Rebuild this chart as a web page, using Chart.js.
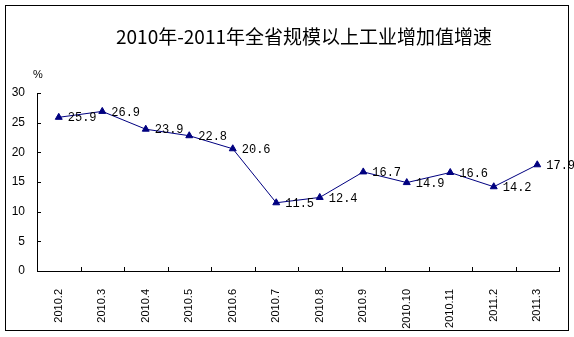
<!DOCTYPE html>
<html>
<head>
<meta charset="utf-8">
<script src="https://cdn.jsdelivr.net/npm/chart.js@4/dist/chart.umd.min.js"></script>
<style>
  html, body { margin: 0; padding: 0; background: #fff; }
  canvas { display: block; }
</style>
</head>
<body>
<canvas id="growthChart" width="574" height="337"></canvas>
<script>
const months = ["2010.2", "2010.3", "2010.4", "2010.5", "2010.6", "2010.7", "2010.8", "2010.9", "2010.10", "2010.11", "2011.2", "2011.3"];
const growth = [25.9, 26.9, 23.9, 22.8, 20.6, 11.5, 12.4, 16.7, 14.9, 16.6, 14.2, 17.9];
const yTicks = [0, 5, 10, 15, 20, 25, 30];
const chartTitle = "2010年-2011年全省规模以上工业增加值增速";
const unitLabel = "%";

const navy = "#000080";

// frame, title, unit and inward tick marks
const decorations = {
  id: "decorations",
  beforeDraw(chart) {
    const ctx = chart.ctx;
    ctx.save();
    ctx.fillStyle = "#fff";
    ctx.fillRect(0, 0, chart.width, chart.height);
    ctx.restore();
  },
  afterDraw(chart) {
    const ctx = chart.ctx;
    const x = chart.scales.x;
    const y = chart.scales.y;
    const area = chart.chartArea;
    ctx.save();
    ctx.strokeStyle = "#000";
    ctx.lineWidth = 1;
    ctx.strokeRect(5.5, 5.5, 563, 325);

    ctx.beginPath();
    yTicks.forEach(function (v) {
      const py = Math.round(y.getPixelForValue(v)) + 0.5;
      ctx.moveTo(area.left, py);
      ctx.lineTo(area.left + 4, py);
    });
    for (let i = 0; i < months.length; i++) {
      const px = Math.round(x.getPixelForValue(i) + (x.getPixelForValue(1) - x.getPixelForValue(0)) / 2) + 0.5;
      ctx.moveTo(px, area.bottom);
      ctx.lineTo(px, area.bottom - 4);
    }
    ctx.stroke();

    ctx.fillStyle = "#000";
    ctx.font = "19px 'Noto Sans CJK SC'";
    ctx.textAlign = "center";
    ctx.textBaseline = "middle";
    ctx.fillText(chartTitle, 304, 37);

    ctx.font = "11px 'Liberation Sans'";
    ctx.fillText(unitLabel, 38, 75);
    ctx.restore();
  }
};

// value printed to the right of each point
const pointValues = {
  id: "pointValues",
  afterDatasetsDraw(chart) {
    const ctx = chart.ctx;
    const meta = chart.getDatasetMeta(0);
    ctx.save();
    ctx.fillStyle = "#000";
    ctx.font = "12px 'Liberation Mono'";
    ctx.textAlign = "left";
    ctx.textBaseline = "middle";
    meta.data.forEach(function (pt, i) {
      ctx.fillText(growth[i].toFixed(1), pt.x + 9, pt.y + 1);
    });
    ctx.restore();
  }
};

new Chart(document.getElementById("growthChart").getContext("2d"), {
  type: "line",
  data: {
    labels: months,
    datasets: [
      {
        data: growth,
        borderColor: navy,
        backgroundColor: navy,
        borderWidth: 1,
        tension: 0,
        pointStyle: "triangle",
        pointRadius: 4,
        pointBorderWidth: 1,
        fill: false,
      },
    ],
  },
  options: {
    responsive: false,
    animation: false,
    devicePixelRatio: 1,
    layout: { padding: { top: 93, right: 15, left: 0, bottom: 0 } },
    plugins: {
      legend: { display: false },
      title: { display: false },
      tooltip: { enabled: false },
    },
    scales: {
      x: {
        offset: true,
        grid: { display: false, drawTicks: false },
        border: { display: true, color: "#000", width: 1 },
        ticks: {
          autoSkip: false,
          minRotation: 90,
          maxRotation: 90,
          padding: 18,
          color: "#000",
          font: { family: "'Liberation Sans'", size: 11 },
        },
        afterFit(scale) { scale.height = 66; },
      },
      y: {
        min: 0,
        max: 30,
        grid: { display: false, drawTicks: false },
        border: { display: true, color: "#000", width: 1 },
        ticks: {
          stepSize: 5,
          padding: 12,
          color: "#000",
          font: { family: "'Liberation Sans'", size: 12 },
        },
        afterFit(scale) { scale.width = 37; },
      },
    },
  },
  plugins: [decorations, pointValues],
});
</script>
</body>
</html>
